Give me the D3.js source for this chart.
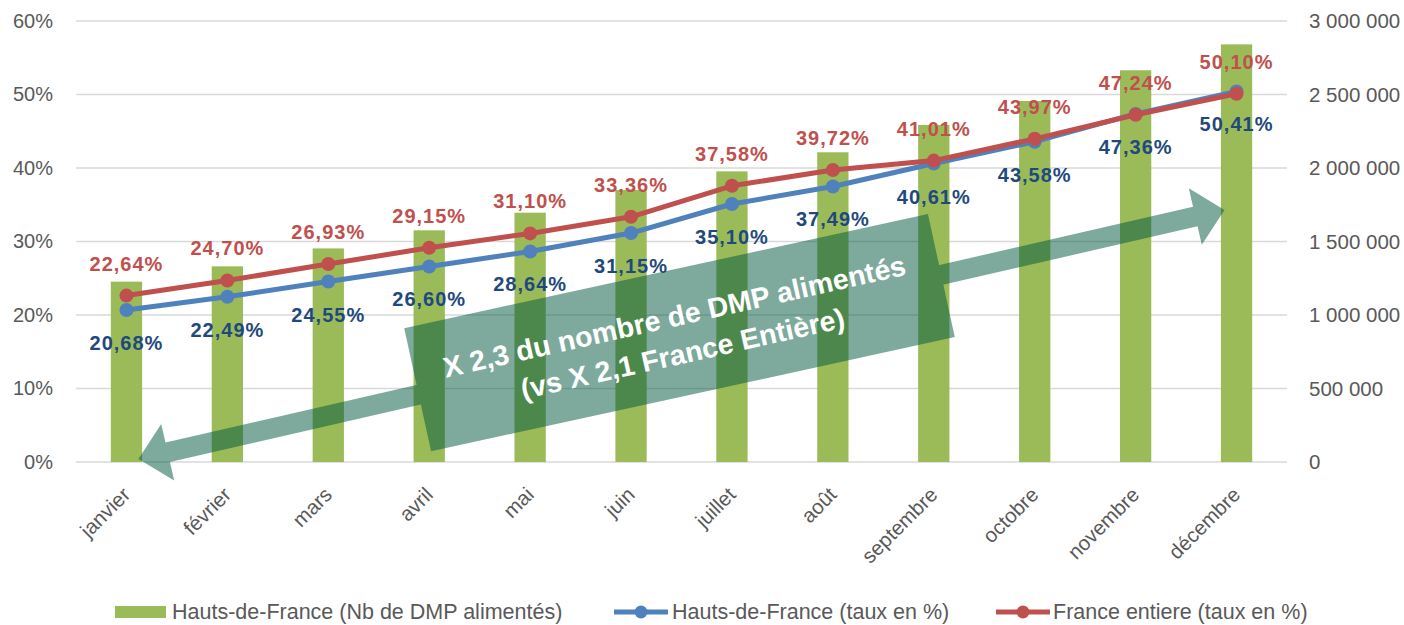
<!DOCTYPE html>
<html>
<head>
<meta charset="utf-8">
<script src="https://cdn.jsdelivr.net/npm/d3@7"></script>
<style>
  html, body { margin: 0; padding: 0; background: #ffffff; }
  svg { display: block; }
  text { font-family: "Liberation Sans", Arial, sans-serif; }
</style>
</head>
<body>
<svg id="chart" width="1404" height="625"></svg>
<script>
// ---------------- DATA ----------------
const months = ["janvier","février","mars","avril","mai","juin","juillet","août","septembre","octobre","novembre","décembre"];
const dmpCounts = [1227000, 1331000, 1453000, 1576000, 1696000, 1850000, 1977000, 2107000, 2293000, 2456000, 2665000, 2841000];
const tauxHautsDeFrance = [20.68, 22.49, 24.55, 26.60, 28.64, 31.15, 35.10, 37.49, 40.61, 43.58, 47.36, 50.41];
const tauxFranceEntiere = [22.64, 24.70, 26.93, 29.15, 31.10, 33.36, 37.58, 39.72, 41.01, 43.97, 47.24, 50.10];
const leftTicks = [0, 10, 20, 30, 40, 50, 60];
const rightTicks = [0, 500000, 1000000, 1500000, 2000000, 2500000, 3000000];
const legendLabels = ["Hauts-de-France (Nb de DMP alimentés)", "Hauts-de-France (taux en %)", "France entiere (taux en %)"];
const annotationLines = ["X 2,3 du nombre de DMP alimentés", "(vs X 2,1 France Entière)"];

// ---------------- STYLE ----------------
const colBar = "#9BBB59", colBlue = "#4F81BD", colRed = "#C0504D";
const colBlueLbl = "#1F497D", colRedLbl = "#C0504D";
const colAxis = "#595959", colGrid = "#D9D9D9";
const colArrow = "rgb(0,87,62)";

const svg = d3.select("#chart");
const plot = { left: 76, right: 1287, top: 21, bottom: 462 };

const frLocale = d3.formatLocale({ decimal: ",", thousands: " ", grouping: [3], currency: ["", " €"] });
const fmtPct = v => frLocale.format(".2f")(v) + "%";
const fmtRight = frLocale.format(",");

const x = d3.scaleBand().domain(months).range([plot.left, plot.right]).padding(0);
const yL = d3.scaleLinear().domain([0, 60]).range([plot.bottom, plot.top]);
const yR = d3.scaleLinear().domain([0, 3000000]).range([plot.bottom, plot.top]);
const cx = m => x(m) + x.bandwidth() / 2;
const barW = x.bandwidth() * 0.31;

// gridlines
svg.append("g").selectAll("line").data(leftTicks).join("line")
  .attr("x1", plot.left).attr("x2", plot.right)
  .attr("y1", d => yL(d)).attr("y2", d => yL(d))
  .attr("stroke", colGrid).attr("stroke-width", 1.5);

// left axis
const axL = svg.append("g").attr("transform", `translate(${plot.left},0)`)
  .call(d3.axisLeft(yL).tickValues(leftTicks).tickSize(0).tickPadding(23).tickFormat(d => d + "%"));
axL.select(".domain").remove();
axL.selectAll("text").attr("font-size", 20).attr("fill", colAxis).attr("font-family", "Liberation Sans");

// right axis
const axR = svg.append("g").attr("transform", `translate(${plot.right},0)`)
  .call(d3.axisRight(yR).tickValues(rightTicks).tickSize(0).tickPadding(22).tickFormat(fmtRight));
axR.select(".domain").remove();
axR.selectAll("text").attr("font-size", 20.5).attr("fill", colAxis).attr("font-family", "Liberation Sans");

// x axis labels
const axX = svg.append("g").attr("transform", `translate(0,${plot.bottom})`)
  .call(d3.axisBottom(x).tickSize(0).tickPadding(0));
axX.select(".domain").remove();
axX.selectAll("text")
  .attr("font-size", 20.5).attr("fill", colAxis).attr("font-family", "Liberation Sans")
  .attr("text-anchor", "end").attr("dy", null).attr("y", null)
  .attr("transform", "translate(5,34) rotate(-45)");

// bars
svg.append("g").selectAll("rect").data(months).join("rect")
  .attr("x", (m) => cx(m) - barW / 2)
  .attr("width", barW)
  .attr("y", (m, i) => yR(dmpCounts[i]))
  .attr("height", (m, i) => plot.bottom - yR(dmpCounts[i]))
  .attr("fill", colBar);

// lines
function drawSeries(vals, col) {
  const line = d3.line().x((d, i) => cx(months[i])).y(d => yL(d));
  svg.append("path").datum(vals).attr("d", line)
    .attr("fill", "none").attr("stroke", col).attr("stroke-width", 5).attr("stroke-linejoin", "round");
  svg.append("g").selectAll("circle").data(vals).join("circle")
    .attr("cx", (d, i) => cx(months[i])).attr("cy", d => yL(d)).attr("r", 7).attr("fill", col);
}
drawSeries(tauxHautsDeFrance, colBlue);
drawSeries(tauxFranceEntiere, colRed);

// data labels
function drawLabels(vals, col, off) {
  svg.append("g").selectAll("text").data(vals).join("text")
    .attr("x", (d, i) => cx(months[i])).attr("y", d => yL(d) + off)
    .attr("text-anchor", "middle").attr("font-size", 20).attr("font-weight", "bold")
    .attr("letter-spacing", 1).attr("fill", col).text(d => fmtPct(d));
}
drawLabels(tauxFranceEntiere, colRedLbl, -25);
drawLabels(tauxHautsDeFrance, colBlueLbl, 40);

// ---------------- ANNOTATION ----------------
const tipL = [cx(months[0]) + 12, yL(0.4)];
const tipR = [cx(months[11]) - 12, yL(34.3)];
const dx = tipR[0] - tipL[0], dy = tipR[1] - tipL[1];
const L = Math.hypot(dx, dy);
const ang = Math.atan2(dy, dx) * 180 / Math.PI;
const hl = 30, hw = 58, sw = 20;
const arrowPts = [[0,0],[hl,-hw/2],[hl,-sw/2],[L-hl,-sw/2],[L-hl,-hw/2],[L,0],[L-hl,hw/2],[L-hl,sw/2],[hl,sw/2],[hl,hw/2]];

const ann = svg.append("g").attr("opacity", 0.5);
ann.append("polygon")
  .attr("transform", `translate(${tipL[0]},${tipL[1]}) rotate(${ang})`)
  .attr("points", arrowPts.map(p => p.join(",")).join(" "))
  .attr("fill", colArrow);

const boxC = [(cx(months[5]) + cx(months[6])) / 2 - 2, yL(17.6)];
const boxAng = -12.3, boxW = 536, boxH = 126;
ann.append("rect")
  .attr("transform", `translate(${boxC[0]},${boxC[1]}) rotate(${boxAng})`)
  .attr("x", -boxW / 2).attr("y", -boxH / 2).attr("width", boxW).attr("height", boxH)
  .attr("fill", colArrow);

const annText = svg.append("g").attr("transform", `translate(${boxC[0]},${boxC[1]}) rotate(-12.6)`);
annText.selectAll("text").data(annotationLines).join("text")
  .attr("x", -1.5).attr("y", (d, i) => i === 0 ? -7 : 31)
  .attr("text-anchor", "middle").attr("font-size", 28.5).attr("font-weight", "bold")
  .attr("fill", "#ffffff").text(d => d);

// ---------------- LEGEND ----------------
const lg = svg.append("g");
lg.append("rect").attr("x", 115).attr("y", 606).attr("width", 51).attr("height", 12).attr("fill", colBar);
lg.append("text").attr("x", 172).attr("y", 619).attr("font-size", 21.5).attr("fill", colAxis).text(legendLabels[0]);

[[614, 668, colBlue, 672, legendLabels[1]], [996, 1050, colRed, 1053, legendLabels[2]]].forEach(([a, b, c, tx, t]) => {
  lg.append("line").attr("x1", a).attr("x2", b).attr("y1", 612).attr("y2", 612).attr("stroke", c).attr("stroke-width", 5);
  lg.append("circle").attr("cx", (a + b) / 2).attr("cy", 612).attr("r", 6.5).attr("fill", c);
  lg.append("text").attr("x", tx).attr("y", 619).attr("font-size", 21.5).attr("fill", colAxis).text(t);
});
</script>
</body>
</html>
